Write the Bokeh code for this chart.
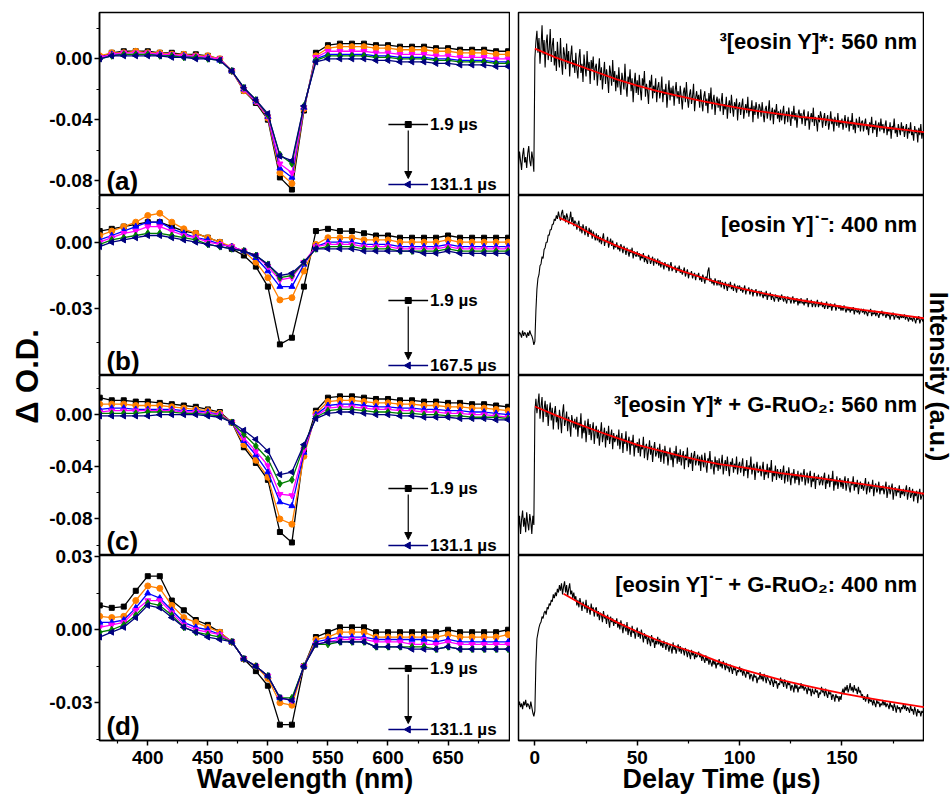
import math
from bokeh.plotting import figure
from bokeh.layouts import row, column
from bokeh.models import Range1d, FixedTicker, PrintfTickFormatter, Arrow, NormalHead
from bokeh.core.properties import value
from bokeh.embed import file_html
from bokeh.resources import INLINE

FONT = "Liberation Sans"

# ---------------- data: transient absorption spectra (left) ----------------
wavelength_nm = [360, 370, 380, 390, 400, 410, 420, 430, 440, 450, 460, 470, 480, 490, 500, 510, 520, 530,
                 540, 550, 560, 570, 580, 590, 600, 610, 620, 630, 640, 650, 660, 670, 680, 690, 700]

# panel (a)
a_s1 = [0.001, 0.004, 0.005, 0.005, 0.005, 0.004, 0.004, 0.003, 0.003, 0.002, 0.000, -0.008, -0.021, -0.029, -0.040, -0.078, -0.086, -0.034, 0.004, 0.009, 0.010, 0.010, 0.010, 0.009, 0.009, 0.008, 0.008, 0.008, 0.007, 0.007, 0.006, 0.006, 0.006, 0.005, 0.005]
a_s2 = [0.002, 0.004, 0.004, 0.005, 0.004, 0.004, 0.003, 0.003, 0.002, 0.002, 0.000, -0.008, -0.021, -0.028, -0.039, -0.075, -0.082, -0.033, 0.002, 0.007, 0.008, 0.008, 0.008, 0.007, 0.007, 0.006, 0.006, 0.006, 0.005, 0.005, 0.004, 0.004, 0.004, 0.003, 0.003]
a_s3 = [0.001, 0.003, 0.003, 0.003, 0.003, 0.003, 0.002, 0.002, 0.001, 0.001, -0.001, -0.008, -0.020, -0.028, -0.038, -0.072, -0.078, -0.032, 0.000, 0.003, 0.003, 0.003, 0.003, 0.002, 0.002, 0.001, 0.001, 0.001, 0.000, 0.000, -0.001, -0.001, -0.001, -0.002, -0.002]
a_s4 = [0.001, 0.003, 0.004, 0.004, 0.004, 0.003, 0.003, 0.002, 0.002, 0.001, 0.000, -0.008, -0.020, -0.028, -0.038, -0.069, -0.075, -0.032, 0.001, 0.005, 0.005, 0.005, 0.005, 0.004, 0.004, 0.003, 0.003, 0.003, 0.002, 0.002, 0.001, 0.001, 0.001, 0.000, 0.000]
a_s5 = [0.000, 0.002, 0.003, 0.003, 0.003, 0.002, 0.002, 0.001, 0.001, 0.000, -0.001, -0.008, -0.019, -0.027, -0.037, -0.063, -0.069, -0.031, -0.001, 0.002, 0.002, 0.002, 0.002, 0.001, 0.001, 0.000, 0.000, 0.000, -0.001, -0.001, -0.002, -0.002, -0.002, -0.003, -0.003]
a_s6 = [0.000, 0.002, 0.002, 0.002, 0.002, 0.002, 0.001, 0.001, 0.000, 0.000, -0.001, -0.008, -0.019, -0.027, -0.036, -0.064, -0.067, -0.031, -0.002, 0.000, 0.000, 0.000, 0.000, -0.001, -0.001, -0.002, -0.002, -0.002, -0.003, -0.003, -0.004, -0.004, -0.004, -0.005, -0.005]

# panel (b)
b_s1 = [0.005, 0.006, 0.007, 0.008, 0.009, 0.009, 0.007, 0.005, 0.004, 0.002, 0.000, -0.003, -0.006, -0.011, -0.020, -0.046, -0.043, -0.020, 0.005, 0.006, 0.005, 0.005, 0.004, 0.003, 0.003, 0.002, 0.002, 0.002, 0.002, 0.003, 0.002, 0.002, 0.002, 0.002, 0.002]
b_s2 = [0.003, 0.005, 0.007, 0.009, 0.012, 0.013, 0.009, 0.006, 0.004, 0.002, 0.000, -0.002, -0.004, -0.009, -0.016, -0.026, -0.025, -0.013, -0.001, 0.002, 0.002, 0.002, 0.001, 0.001, 0.001, 0.000, 0.000, 0.000, 0.000, 0.001, 0.000, 0.000, 0.000, 0.000, 0.000]
b_s3 = [0.001, 0.003, 0.005, 0.007, 0.009, 0.009, 0.006, 0.004, 0.002, 0.001, -0.001, -0.002, -0.004, -0.007, -0.013, -0.020, -0.020, -0.010, -0.002, 0.000, 0.000, 0.000, -0.001, -0.001, -0.001, -0.002, -0.002, -0.002, -0.002, -0.001, -0.002, -0.002, -0.002, -0.002, -0.002]
b_s4 = [0.000, 0.002, 0.004, 0.005, 0.007, 0.007, 0.005, 0.003, 0.002, 0.000, -0.001, -0.002, -0.004, -0.006, -0.011, -0.017, -0.016, -0.009, -0.002, -0.001, -0.001, -0.001, -0.002, -0.002, -0.002, -0.003, -0.003, -0.003, -0.003, -0.002, -0.003, -0.003, -0.003, -0.003, -0.003]
b_s5 = [-0.001, 0.001, 0.002, 0.003, 0.004, 0.004, 0.003, 0.002, 0.001, -0.001, -0.002, -0.003, -0.004, -0.006, -0.010, -0.016, -0.015, -0.009, -0.003, -0.002, -0.002, -0.002, -0.003, -0.003, -0.003, -0.004, -0.004, -0.004, -0.004, -0.003, -0.004, -0.004, -0.004, -0.004, -0.004]
b_s6 = [-0.002, 0.000, 0.001, 0.002, 0.003, 0.003, 0.002, 0.001, 0.000, -0.001, -0.002, -0.003, -0.004, -0.006, -0.010, -0.015, -0.014, -0.009, -0.003, -0.003, -0.003, -0.003, -0.004, -0.004, -0.004, -0.004, -0.004, -0.005, -0.005, -0.004, -0.005, -0.005, -0.005, -0.005, -0.005]

# panel (c)
c_s1 = [0.013, 0.011, 0.011, 0.010, 0.010, 0.009, 0.008, 0.007, 0.006, 0.004, 0.002, -0.006, -0.025, -0.037, -0.050, -0.090, -0.098, -0.027, 0.003, 0.013, 0.014, 0.014, 0.013, 0.012, 0.012, 0.011, 0.011, 0.010, 0.010, 0.009, 0.009, 0.008, 0.008, 0.007, 0.006]
c_s2 = [0.008, 0.008, 0.008, 0.007, 0.007, 0.007, 0.006, 0.005, 0.004, 0.003, 0.001, -0.006, -0.023, -0.035, -0.048, -0.080, -0.084, -0.032, 0.001, 0.010, 0.011, 0.011, 0.010, 0.009, 0.009, 0.008, 0.008, 0.007, 0.007, 0.006, 0.006, 0.005, 0.005, 0.004, 0.003]
c_s3 = [0.004, 0.005, 0.005, 0.004, 0.004, 0.004, 0.004, 0.003, 0.003, 0.002, 0.000, -0.006, -0.020, -0.031, -0.044, -0.067, -0.070, -0.029, 0.000, 0.007, 0.008, 0.008, 0.007, 0.006, 0.006, 0.005, 0.005, 0.004, 0.004, 0.003, 0.003, 0.002, 0.002, 0.001, 0.000]
c_s4 = [0.002, 0.003, 0.003, 0.003, 0.003, 0.003, 0.003, 0.002, 0.002, 0.001, 0.000, -0.006, -0.018, -0.028, -0.039, -0.061, -0.062, -0.027, -0.001, 0.005, 0.006, 0.006, 0.005, 0.004, 0.004, 0.003, 0.003, 0.002, 0.002, 0.001, 0.001, 0.000, 0.000, -0.001, -0.002]
c_s5 = [0.001, 0.001, 0.001, 0.001, 0.002, 0.002, 0.002, 0.001, 0.001, 0.000, -0.001, -0.006, -0.015, -0.024, -0.034, -0.053, -0.050, -0.024, -0.002, 0.003, 0.004, 0.004, 0.003, 0.002, 0.002, 0.001, 0.001, 0.000, 0.000, -0.001, -0.001, -0.002, -0.002, -0.002, -0.003]
c_s6 = [-0.001, -0.001, -0.001, -0.001, -0.001, 0.000, 0.000, 0.000, 0.000, -0.001, -0.002, -0.006, -0.012, -0.019, -0.028, -0.046, -0.044, -0.023, -0.003, 0.001, 0.002, 0.002, 0.001, 0.000, 0.000, -0.001, -0.001, -0.002, -0.002, -0.002, -0.003, -0.003, -0.003, -0.004, -0.004]

# panel (d)
d_s1 = [0.010, 0.009, 0.0095, 0.016, 0.022, 0.022, 0.012, 0.008, 0.004, 0.002, -0.001, -0.005, -0.012, -0.017, -0.023, -0.039, -0.039, -0.015, -0.003, -0.001, 0.001, 0.001, 0.001, -0.001, -0.001, -0.001, -0.001, -0.001, -0.001, 0.000, -0.001, -0.001, -0.001, -0.001, 0.000]
d_s2 = [0.0055, 0.005, 0.0055, 0.012, 0.018, 0.017, 0.010, 0.005, 0.003, 0.001, -0.001, -0.005, -0.012, -0.015, -0.020, -0.030, -0.031, -0.015, -0.004, -0.003, -0.001, -0.001, -0.001, -0.003, -0.003, -0.003, -0.003, -0.003, -0.003, -0.002, -0.003, -0.003, -0.003, -0.003, -0.002]
d_s3 = [0.003, 0.003, 0.004, 0.009, 0.015, 0.013, 0.008, 0.003, 0.001, 0.000, -0.002, -0.005, -0.012, -0.015, -0.019, -0.028, -0.029, -0.015, -0.005, -0.004, -0.003, -0.003, -0.003, -0.004, -0.004, -0.004, -0.004, -0.004, -0.005, -0.004, -0.005, -0.005, -0.005, -0.005, -0.005]
d_s4 = [0.001, 0.002, 0.003, 0.008, 0.012, 0.012, 0.007, 0.002, 0.000, -0.001, -0.002, -0.005, -0.012, -0.015, -0.019, -0.028, -0.029, -0.015, -0.006, -0.005, -0.004, -0.004, -0.004, -0.005, -0.005, -0.005, -0.006, -0.006, -0.006, -0.005, -0.006, -0.006, -0.006, -0.006, -0.006]
d_s5 = [-0.001, 0.000, 0.002, 0.006, 0.011, 0.010, 0.006, 0.001, -0.001, -0.002, -0.003, -0.005, -0.012, -0.015, -0.019, -0.028, -0.028, -0.015, -0.006, -0.006, -0.005, -0.005, -0.005, -0.007, -0.007, -0.007, -0.007, -0.007, -0.008, -0.007, -0.008, -0.008, -0.008, -0.008, -0.008]
d_s6 = [-0.003, -0.001, 0.001, 0.005, 0.010, 0.009, 0.005, 0.001, -0.001, -0.003, -0.004, -0.005, -0.012, -0.015, -0.019, -0.028, -0.029, -0.015, -0.006, -0.005, -0.005, -0.005, -0.005, -0.007, -0.007, -0.007, -0.008, -0.008, -0.008, -0.007, -0.008, -0.008, -0.008, -0.008, -0.008]

first_delay = "1.9 µs"
last_delays = ["131.1 µs", "167.5 µs", "131.1 µs", "131.1 µs"]
panel_tags = ["(a)", "(b)", "(c)", "(d)"]
left_yticks = [[-0.08, -0.04, 0.0], [-0.03, 0.0], [-0.08, -0.04, 0.0], [-0.03, 0.0, 0.03]]
left_yminor = [[-0.06, -0.02, 0.02], [-0.045, -0.015, 0.015], [-0.10, -0.06, -0.02, 0.02], [-0.045, -0.015, 0.015]]
left_yrange = [(-0.0899, 0.0305), (-0.0600, 0.0210), (-0.1080, 0.0300), (-0.0455, 0.0305)]
wl_ticks = [400, 450, 500, 550, 600, 650]
wl_minor = [375, 425, 475, 525, 575, 625, 675]

# ---------------- data: kinetic traces (right), intensity in a.u., every 0.5 us ----------------
delay_us = [k * 0.5 for k in range(-16, 381)]

trace_a = [17, 24, 19, 14, 22, 26, 18, 21, 15, 23, 27, 19, 16, 24, 20, 13,
           75, 84, 90, 78, 86, 72, 81, 93, 77, 85, 70, 83, 88, 74, 80, 91, 73, 82, 86, 71,
           79, 68, 84, 75, 70, 86, 73, 66, 81, 77, 69, 83, 72, 79, 65, 76, 82, 70, 74, 67,
           78, 69, 64, 75, 80, 67, 72, 62, 77, 70, 65, 79, 68, 73, 61, 74, 69, 76, 63, 70,
           72, 60, 68, 75, 63, 70, 58, 66, 73, 61, 69, 64, 56, 71, 67, 60, 74, 62, 68, 57,
           66, 59, 70, 61, 55, 67, 63, 58, 72, 60, 54, 65, 62, 69, 57, 64, 51, 61, 67, 56,
           63, 55, 66, 58, 52, 64, 60, 68, 54, 61, 57, 50, 63, 59, 66, 53, 60, 56, 64, 51,
           59, 62, 53, 57, 65, 51, 58, 55, 61, 48, 56, 63, 52, 59, 54, 60, 49, 57, 62, 53,
           57, 50, 60, 54, 47, 56, 59, 51, 62, 53, 48, 55, 58, 50, 54, 61, 46, 53, 57, 52,
           55, 48, 58, 51, 46, 54, 57, 49, 53, 45, 56, 50, 59, 47, 52, 55, 44, 51, 54, 48,
           53, 46, 51, 56, 44, 50, 47, 54, 42, 49, 52, 45, 55, 48, 43, 51, 47, 53, 41, 49,
           51, 44, 49, 53, 42, 47, 50, 45, 54, 43, 48, 46, 52, 40, 49, 44, 51, 47, 42, 50,
           48, 43, 51, 45, 40, 47, 49, 42, 46, 52, 41, 45, 48, 39, 47, 44, 50, 42, 46, 40,
           47, 41, 45, 49, 39, 44, 46, 40, 48, 43, 38, 46, 42, 49, 41, 45, 37, 44, 47, 42,
           45, 39, 44, 47, 38, 43, 41, 46, 36, 42, 45, 40, 48, 38, 43, 41, 35, 44, 40, 46,
           43, 37, 42, 45, 38, 41, 44, 36, 40, 46, 39, 42, 35, 43, 40, 38, 45, 37, 41, 39,
           42, 36, 40, 44, 37, 39, 43, 35, 41, 38, 45, 36, 40, 34, 42, 39, 37, 43, 35, 40,
           41, 35, 39, 42, 36, 38, 33, 40, 37, 43, 34, 39, 36, 41, 32, 38, 40, 35, 42, 36,
           39, 34, 38, 41, 33, 37, 35, 40, 31, 38, 36, 42, 34, 37, 32, 39, 36, 33, 40, 35,
           38, 32, 36, 39, 31, 37, 34, 40, 33, 35, 30, 38, 34, 36, 29, 37, 33, 39, 31, 35,
           33]
trace_b = [22, 24, 23, 21, 25, 22, 24, 23, 21, 24, 22, 25, 23, 22, 20, 17,
           19, 36, 48, 54, 56, 61, 62, 66, 65, 70, 71, 74, 74, 78, 78, 81, 81, 84, 84, 87,
           86, 89, 87, 91, 88, 86, 90, 92, 87, 89, 85, 90, 88, 84, 87, 91, 85, 88, 83, 86,
           85, 81, 84, 86, 80, 83, 79, 84, 81, 78, 83, 80, 77, 82, 79, 81, 76, 80, 78, 75,
           79, 75, 78, 74, 77, 73, 76, 79, 72, 75, 74, 77, 71, 74, 76, 72, 75, 70, 73, 71,
           74, 70, 72, 69, 73, 71, 68, 72, 70, 67, 71, 69, 66, 70, 68, 71, 65, 69, 67, 66,
           69, 66, 68, 64, 67, 65, 68, 63, 66, 64, 62, 67, 65, 62, 64, 66, 61, 65, 63, 62,
           65, 61, 64, 60, 63, 62, 59, 63, 61, 60, 62, 58, 61, 63, 58, 60, 59, 61, 57, 60,
           58, 61, 57, 59, 56, 58, 60, 55, 57, 59, 54, 57, 56, 58, 54, 56, 57, 53, 56, 55,
           57, 53, 55, 52, 56, 54, 51, 55, 53, 58, 60, 52, 54, 51, 53, 50, 54, 52, 50, 53,
           50, 53, 49, 52, 51, 48, 52, 50, 47, 51, 49, 52, 48, 50, 47, 51, 49, 46, 50, 48,
           50, 47, 49, 46, 48, 50, 45, 48, 47, 49, 45, 47, 48, 44, 47, 46, 48, 44, 46, 47,
           44, 47, 45, 43, 46, 44, 47, 42, 45, 44, 46, 42, 45, 43, 41, 45, 43, 44, 41, 44,
           42, 45, 43, 41, 44, 42, 40, 44, 42, 43, 40, 42, 44, 40, 42, 41, 43, 39, 42, 40,
           43, 40, 41, 39, 42, 40, 43, 38, 41, 40, 42, 38, 40, 41, 38, 40, 42, 38, 40, 39,
           41, 38, 40, 37, 39, 41, 37, 39, 38, 40, 36, 39, 38, 40, 36, 38, 39, 37, 39, 36,
           38, 36, 39, 37, 35, 38, 36, 38, 35, 37, 36, 38, 34, 37, 36, 35, 37, 34, 36, 37,
           35, 37, 34, 36, 35, 33, 36, 35, 37, 33, 35, 34, 36, 33, 35, 34, 32, 35, 34, 36,
           33, 35, 34, 32, 35, 33, 34, 31, 34, 33, 35, 31, 33, 34, 32, 33, 31, 34, 32, 33,
           32, 34, 31, 33, 32, 30, 33, 31, 32, 30, 33, 31, 29, 32, 31, 33, 29, 31, 32, 30,
           31]
trace_c = [15, 22, 12, 20, 25, 16, 21, 13, 24, 18, 14, 23, 19, 12, 22, 17,
           80, 87, 79, 84, 90, 76, 83, 88, 74, 81, 86, 77, 84, 72, 80, 85, 75, 82, 70, 79,
           83, 74, 78, 70, 81, 76, 68, 79, 84, 72, 75, 80, 69, 77, 73, 66, 78, 74, 71, 76,
           70, 77, 66, 74, 71, 79, 65, 72, 68, 75, 63, 71, 76, 67, 73, 64, 70, 74, 62, 69,
           72, 65, 70, 61, 68, 74, 63, 67, 71, 60, 69, 64, 72, 62, 66, 70, 59, 68, 63, 65,
           67, 61, 70, 59, 64, 68, 57, 65, 62, 69, 58, 63, 66, 56, 64, 61, 67, 55, 62, 60,
           63, 57, 65, 55, 61, 59, 66, 54, 60, 62, 53, 58, 64, 56, 61, 52, 59, 63, 55, 57,
           60, 54, 62, 52, 57, 59, 51, 61, 55, 58, 50, 56, 60, 53, 57, 49, 58, 54, 61, 51,
           57, 52, 59, 50, 55, 58, 48, 56, 53, 60, 49, 54, 51, 57, 47, 55, 58, 50, 53, 56,
           50, 55, 47, 56, 52, 49, 57, 51, 46, 54, 52, 58, 48, 53, 50, 45, 55, 49, 53, 47,
           54, 48, 51, 56, 45, 50, 53, 47, 55, 49, 44, 52, 50, 54, 46, 51, 48, 55, 45, 50,
           52, 46, 50, 54, 44, 49, 47, 53, 43, 50, 48, 55, 45, 49, 51, 42, 48, 52, 46, 47,
           50, 44, 48, 52, 42, 47, 45, 51, 43, 49, 46, 53, 41, 47, 44, 50, 42, 48, 45, 43,
           48, 42, 46, 50, 40, 45, 47, 41, 49, 44, 39, 46, 43, 48, 40, 45, 42, 47, 39, 44,
           46, 41, 45, 48, 39, 43, 46, 40, 44, 47, 38, 43, 41, 46, 37, 44, 42, 45, 39, 41,
           44, 39, 43, 46, 37, 42, 40, 45, 38, 43, 41, 47, 36, 42, 39, 44, 37, 41, 43, 38,
           42, 37, 41, 44, 36, 40, 43, 38, 35, 41, 39, 44, 36, 40, 38, 42, 34, 39, 41, 37,
           40, 36, 39, 43, 34, 38, 41, 35, 39, 37, 42, 33, 38, 40, 35, 37, 41, 34, 38, 36,
           39, 34, 37, 41, 32, 36, 39, 34, 37, 40, 31, 36, 38, 33, 37, 35, 39, 32, 36, 34,
           37, 33, 36, 39, 31, 35, 38, 32, 34, 37, 30, 35, 33, 36, 29, 34, 37, 31, 33, 35,
           32]
trace_d = [19, 21, 18, 20, 17, 21, 19, 22, 18, 20, 19, 17, 21, 18, 15, 13,
           16, 42, 55, 58, 61, 63, 64, 67, 66, 69, 70, 68, 72, 71, 74, 73, 76, 75, 79, 77,
           80, 78, 82, 80, 84, 81, 85, 79, 83, 86, 80, 84, 78, 82, 85, 79, 81, 77, 80, 76,
           78, 73, 76, 72, 77, 74, 70, 75, 73, 71, 76, 69, 73, 71, 68, 74, 70, 72, 67, 71,
           72, 67, 70, 65, 69, 68, 64, 70, 66, 67, 63, 68, 65, 61, 67, 64, 66, 62, 65, 63,
           66, 61, 64, 60, 65, 62, 58, 63, 61, 59, 64, 57, 61, 59, 56, 62, 58, 60, 55, 59,
           61, 56, 59, 55, 60, 57, 53, 58, 55, 57, 52, 56, 54, 51, 57, 53, 55, 50, 54, 52,
           56, 52, 55, 51, 53, 50, 54, 52, 49, 53, 51, 48, 52, 50, 47, 53, 49, 51, 47, 50,
           52, 48, 51, 47, 50, 49, 46, 50, 48, 45, 49, 47, 44, 49, 46, 48, 44, 47, 45, 46,
           48, 45, 47, 43, 46, 44, 42, 46, 43, 45, 41, 44, 42, 40, 44, 41, 43, 39, 42, 41,
           44, 40, 42, 39, 43, 41, 38, 42, 39, 40, 37, 41, 39, 36, 40, 38, 39, 35, 38, 37,
           40, 37, 39, 35, 38, 36, 34, 38, 36, 37, 33, 36, 35, 32, 36, 34, 35, 31, 34, 33,
           37, 33, 35, 32, 36, 34, 31, 35, 33, 32, 30, 34, 32, 29, 33, 31, 32, 28, 31, 30,
           34, 31, 32, 29, 33, 31, 28, 32, 30, 31, 27, 30, 29, 26, 31, 28, 30, 26, 29, 28,
           31, 28, 30, 27, 29, 28, 25, 29, 27, 28, 24, 28, 26, 25, 28, 26, 27, 23, 26, 25,
           29, 26, 27, 24, 28, 25, 23, 27, 25, 26, 22, 25, 24, 21, 25, 23, 24, 21, 24, 22,
           26, 28, 25, 29, 27, 30, 26, 28, 31, 27, 29, 26, 30, 27, 28, 25, 29, 26, 27, 24,
           25, 22, 24, 21, 23, 25, 20, 23, 21, 22, 19, 22, 20, 18, 22, 20, 21, 18, 20, 19,
           22, 19, 21, 18, 20, 19, 17, 21, 18, 19, 16, 20, 18, 15, 19, 17, 18, 15, 18, 17,
           20, 17, 19, 16, 18, 17, 15, 19, 16, 17, 14, 18, 16, 13, 17, 15, 16, 13, 16, 15,
           17]

fit_t_a = [0, 10, 20, 30, 40, 50, 60, 70, 80, 90, 100, 110, 120, 130, 140, 150, 160, 170, 180, 190]
fit_a = [80.3, 75.5, 71.5, 67.5, 63.5, 60.0, 57.0, 54.5, 52.0, 49.8, 47.8, 46.0, 44.5, 43.0, 41.8, 40.3, 38.8, 37.3, 36.0, 34.6]
fit_t_b = [12, 20, 30, 40, 50, 60, 70, 80, 90, 100, 110, 120, 130, 140, 150, 160, 170, 180, 190]
fit_b = [87.6, 83.5, 77.0, 72.0, 67.7, 63.3, 58.7, 55.0, 51.5, 48.5, 46.0, 43.8, 41.8, 40.0, 38.2, 36.5, 35.0, 33.4, 31.8]
fit_t_c = [0, 10, 20, 30, 40, 50, 60, 70, 80, 90, 100, 110, 120, 130, 140, 150, 160, 170, 180, 190]
fit_c = [82.8, 78.0, 73.5, 69.3, 65.3, 61.5, 58.5, 55.6, 53.0, 50.8, 49.2, 47.5, 45.8, 44.3, 42.8, 41.2, 39.6, 38.0, 36.2, 34.3]
fit_t_d = [14, 20, 30, 40, 50, 60, 70, 80, 90, 100, 110, 120, 130, 140, 150, 160, 170, 180, 190]
fit_d = [79.3, 75.5, 69.5, 64.0, 58.8, 54.2, 50.4, 46.8, 42.5, 38.8, 35.8, 32.8, 30.2, 27.8, 25.5, 23.5, 21.6, 19.8, 18.0]

right_labels = ["³[eosin Y]*: 560 nm", "[eosin Y]˙⁻: 400 nm",
                "³[eosin Y]* + G-RuO₂: 560 nm", "[eosin Y]˙⁻ + G-RuO₂: 400 nm"]
time_ticks = [0, 50, 100, 150]
time_minor = [25, 75, 125, 175]

# ---------------- styling / layout constants ----------------
COLORS = ["#000000", "#FF8000", "#0000FF", "#FF00FF", "#007F00", "#00007F"]
MARKERS = [("square", 0.0, 5), ("circle", 0.0, 6), ("triangle", 0.0, 6),
           ("inverted_triangle", 0.0, 6), ("diamond", 0.0, 7), ("triangle", math.pi / 2, 6)]
X_L = (359.8, 702.0)
X_R = (-8.0, 190.3)
YLAB_L_W = 46
LEFT_W, LEFT_BL, FRAME_LW = 464, 50, 414
RIGHT_W, RIGHT_BL, FRAME_RW = 414, 8, 406
YLAB_R_W = 28
FRAME_H = [183, 180, 180, 185]
TOPS = [12, 0, 0, 12]
BOTTOM_D = 60
LEG_PX = [(71, 11), (75, 10), (67, 10), (72, 11)]
TOTAL_H = 800


def style_axis(ax):
    ax.axis_line_width = 1.5
    ax.axis_line_color = "black"
    ax.major_tick_line_width = 1.5
    ax.minor_tick_line_width = 1.2
    ax.major_tick_line_color = "black"
    ax.minor_tick_line_color = "black"
    ax.major_tick_in = 0
    ax.major_tick_out = 5
    ax.minor_tick_in = 0
    ax.minor_tick_out = 3
    ax.major_label_text_font = FONT
    ax.major_label_text_font_style = "bold"
    ax.major_label_text_font_size = "19px"
    ax.major_label_text_color = "black"
    ax.major_label_standoff = 5
    ax.axis_label_text_font = FONT
    ax.axis_label_text_font_style = "bold"
    ax.axis_label_text_font_size = "27px"
    ax.axis_label_text_color = "black"
    ax.axis_label_standoff = -3


def base_style(p):
    p.grid.visible = False
    p.outline_line_color = "black"
    p.outline_line_width = 1.5
    p.outline_line_alpha = 1.0
    p.background_fill_color = "white"
    p.border_fill_color = "white"


def txt(p, x, y, s, size, align="left", baseline="alphabetic", angle=0.0):
    p.text(x=[x], y=[y], text=[s], angle=angle, text_font=value(FONT), text_font_style="bold",
           text_font_size=size, text_color="black", text_align=align, text_baseline=baseline)


def left_panel(i, series):
    with_x = (i == 3)
    top = TOPS[i]
    bottom = BOTTOM_D if with_x else 0
    fh = FRAME_H[i]
    ylo, yhi = left_yrange[i]
    p = figure(width=LEFT_W, height=fh + top + bottom, x_range=Range1d(*X_L), y_range=Range1d(ylo, yhi),
               output_backend="svg", toolbar_location=None,
               min_border_left=LEFT_BL, min_border_right=0, min_border_top=top, min_border_bottom=bottom,
               x_axis_location="below" if with_x else None, y_axis_location="left")
    base_style(p)
    yax = p.yaxis[0]
    yax.ticker = FixedTicker(ticks=left_yticks[i], minor_ticks=left_yminor[i])
    yax.formatter = PrintfTickFormatter(format="%.2f")
    style_axis(yax)
    yax.major_label_standoff = 2
    if with_x:
        xax = p.xaxis[0]
        xax.ticker = FixedTicker(ticks=wl_ticks, minor_ticks=wl_minor)
        xax.formatter = PrintfTickFormatter(format="%d")
        xax.axis_label = "Wavelength (nm)"
        style_axis(xax)

    for ys, col, (mk, ang, sz) in zip(series, COLORS, MARKERS):
        p.line(wavelength_nm, ys, line_color=col, line_width=1.3)
        p.scatter(wavelength_nm, ys, marker=mk, angle=ang, size=sz, fill_color=col, line_color=col)

    dx = (X_L[1] - X_L[0]) / FRAME_LW
    dy = (yhi - ylo) / fh
    txt(p, X_L[0] + 7 * dx, ylo + 15 * dy, panel_tags[i], "26px")
    xl0, xl1, xm, xt = X_L[1] - 123 * dx, X_L[1] - 83 * dx, X_L[1] - 103 * dx, X_L[1] - 81 * dx
    ytop = ylo + LEG_PX[i][0] * dy
    ybot = ylo + LEG_PX[i][1] * dy
    p.line([xl0, xl1], [ytop, ytop], line_color=COLORS[0], line_width=1.5)
    p.scatter([xm], [ytop], marker="square", size=6, fill_color=COLORS[0], line_color=COLORS[0])
    p.line([xl0, xl1], [ybot, ybot], line_color=COLORS[5], line_width=1.5)
    p.scatter([xm], [ybot], marker="triangle", angle=math.pi / 2, size=7,
              fill_color=COLORS[5], line_color=COLORS[5])
    p.add_layout(Arrow(end=NormalHead(size=7, fill_color="black", line_color="black"),
                       x_start=xm, y_start=ytop - 6 * dy, x_end=xm, y_end=ybot + 6 * dy,
                       line_color="black", line_width=1.2))
    txt(p, xt, ytop, first_delay, "17px", baseline="middle")
    txt(p, xt, ybot, last_delays[i], "17px", baseline="middle")
    if i == 3:
        # let the top tick label (0.03) overlap the panel above, as in the original
        p.margin = (-top, 0, 0, 0)
        p.border_fill_alpha = 0.0
    return p


def right_panel(i, trace, ft, fv):
    with_x = (i == 3)
    top = TOPS[i] if i == 0 else 0
    bottom = BOTTOM_D if with_x else 0
    fh = FRAME_H[i]
    p = figure(width=RIGHT_W, height=fh + top + bottom, x_range=Range1d(*X_R), y_range=Range1d(0, 100),
               output_backend="svg", toolbar_location=None,
               min_border_left=RIGHT_BL, min_border_right=0, min_border_top=top, min_border_bottom=bottom,
               x_axis_location="below" if with_x else None, y_axis_location=None)
    base_style(p)
    if with_x:
        xax = p.xaxis[0]
        xax.ticker = FixedTicker(ticks=time_ticks, minor_ticks=time_minor)
        xax.formatter = PrintfTickFormatter(format="%d")
        xax.axis_label = "Delay Time (µs)"
        style_axis(xax)
    p.line(delay_us, trace, line_color="black", line_width=1.1)
    p.line(ft, fv, line_color="#FF0000", line_width=1.8)
    dx = (X_R[1] - X_R[0]) / FRAME_RW
    dy = 100.0 / fh
    txt(p, X_R[1] - 7 * dx, 100 - 29 * dy, right_labels[i], "22px", align="right")
    return p


left_series = [[a_s1, a_s2, a_s3, a_s4, a_s5, a_s6],
               [b_s1, b_s2, b_s3, b_s4, b_s5, b_s6],
               [c_s1, c_s2, c_s3, c_s4, c_s5, c_s6],
               [d_s1, d_s2, d_s3, d_s4, d_s5, d_s6]]
left_figs = [left_panel(i, s) for i, s in enumerate(left_series)]

right_data = [(trace_a, fit_t_a, fit_a), (trace_b, fit_t_b, fit_b),
              (trace_c, fit_t_c, fit_c), (trace_d, fit_t_d, fit_d)]
right_figs = [right_panel(i, *d) for i, d in enumerate(right_data)]


def label_fig(width, xc, label, angle, size):
    p = figure(width=width, height=TOTAL_H, x_range=Range1d(0, width), y_range=Range1d(0, TOTAL_H),
               output_backend="svg", toolbar_location=None, min_border=0,
               x_axis_location=None, y_axis_location=None)
    p.grid.visible = False
    p.outline_line_color = None
    p.background_fill_color = "white"
    p.border_fill_color = "white"
    txt(p, xc, TOTAL_H - 376, label, size, align="center", baseline="middle", angle=angle)
    return p


ylab_left = label_fig(YLAB_L_W, 27, "Δ O.D.", math.pi / 2, "31px")
ylab_right = label_fig(YLAB_R_W, 14.5, "Intensity (a.u.)", -math.pi / 2, "25px")

layout = row(ylab_left, column(*left_figs), column(*right_figs), ylab_right)

with open("out.html", "w") as f:
    f.write(file_html(layout, INLINE))
